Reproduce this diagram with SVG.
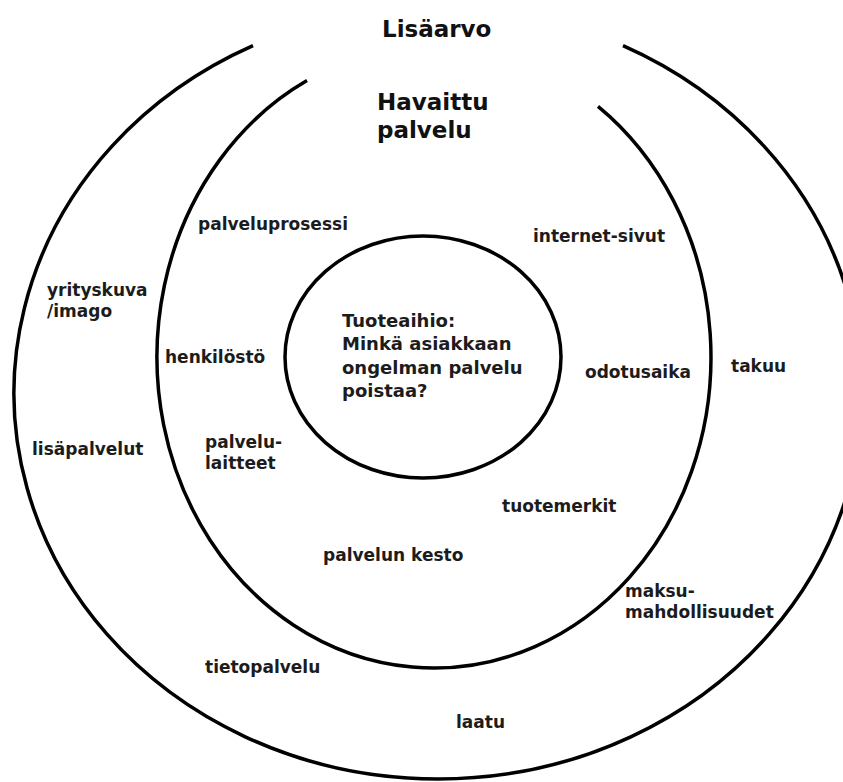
<svg xmlns="http://www.w3.org/2000/svg" width="843" height="782" viewBox="0 0 843 782">
<style>
.ring{fill:none;stroke:#000;stroke-width:3.5}
.t{font-family:"DejaVu Sans","Verdana",sans-serif;font-size:17px;font-weight:bold;fill:#1c1c1c}
.c{font-family:"DejaVu Sans","Verdana",sans-serif;font-size:18px;font-weight:bold;fill:#1c1c1c}
.h{font-family:"DejaVu Sans","Verdana",sans-serif;font-size:23px;font-weight:bold;fill:#111}
</style>
<rect width="843" height="782" fill="#fff"/>
<g id="outer-ring">
<path class="ring" d="M 253 45.7 A 424 386 0 1 0 623 45.7"/>
<text class="h" x="382" y="37">Lisäarvo</text>
<text class="t" x="47" y="296">yrityskuva</text>
<text class="t" x="47" y="317">/imago</text>
<text class="t" x="32" y="455">lisäpalvelut</text>
<text class="t" x="731" y="372">takuu</text>
<text class="t" x="625" y="597">maksu-</text>
<text class="t" x="625" y="618">mahdollisuudet</text>
<text class="t" x="205" y="673">tietopalvelu</text>
<text class="t" x="456" y="728">laatu</text>
</g>
<g id="middle-ring">
<path class="ring" d="M 307 80.6 A 277 311 0 1 0 598 106.4"/>
<text class="h" x="377" y="110">Havaittu</text>
<text class="h" x="377" y="138">palvelu</text>
<text class="t" x="198" y="230">palveluprosessi</text>
<text class="t" x="533" y="242">internet-sivut</text>
<text class="t" x="165" y="363">henkilöstö</text>
<text class="t" x="585" y="378">odotusaika</text>
<text class="t" x="205" y="448">palvelu-</text>
<text class="t" x="205" y="469">laitteet</text>
<text class="t" x="502" y="512">tuotemerkit</text>
<text class="t" x="323" y="561">palvelun kesto</text>
</g>
<g id="core">
<ellipse class="ring" cx="423" cy="357" rx="138" ry="121"/>
<text class="c" x="342" y="327">Tuoteaihio:</text>
<text class="c" x="342" y="350">Minkä asiakkaan</text>
<text class="c" x="342" y="374">ongelman palvelu</text>
<text class="c" x="342" y="397">poistaa?</text>
</g>
<g id="connectors"/>
</svg>
